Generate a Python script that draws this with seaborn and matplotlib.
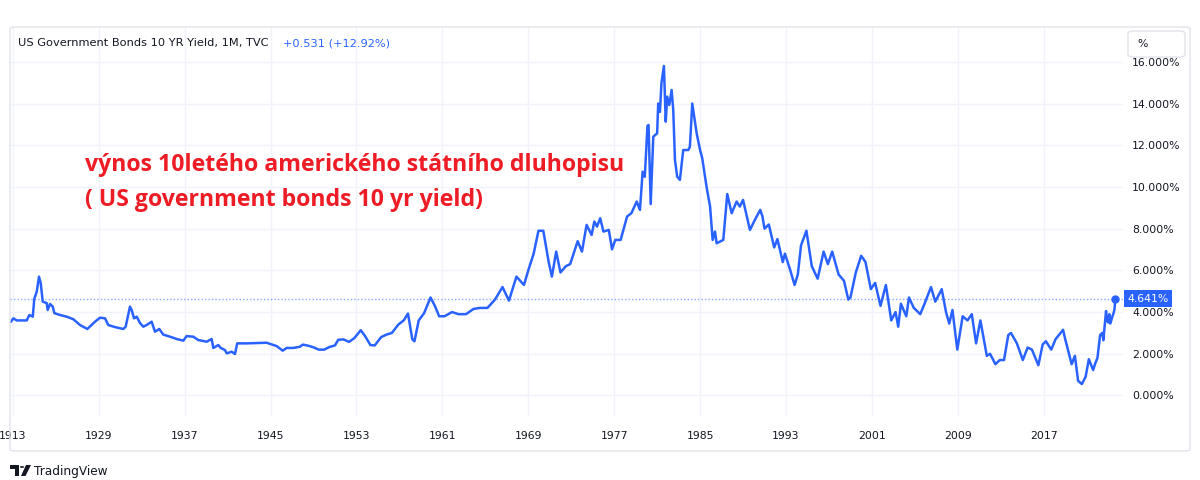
import numpy as np
import pandas as pd
import matplotlib
matplotlib.use("Agg")
import matplotlib.pyplot as plt
import matplotlib.patches as mpatches
import matplotlib.transforms as mtransforms
import seaborn as sns

W, H = 1200, 480

# Yield closes: position on the time axis (years) and yield (%)
years = [
    1920.56, 1920.83, 1921.05, 1921.37, 1922.30, 1922.54, 1922.86, 1923.00, 1923.23, 1923.44,
    1923.60, 1923.79, 1924.16, 1924.25, 1924.47, 1924.72, 1924.87, 1925.40, 1926.02, 1926.63,
    1927.26, 1927.94, 1928.66, 1929.12, 1929.59, 1929.89, 1930.52, 1931.29, 1931.51, 1931.91,
    1932.07, 1932.29, 1932.54, 1932.85, 1933.15, 1933.47, 1933.93, 1934.24, 1934.64, 1935.01,
    1935.64, 1936.26, 1936.88, 1937.19, 1937.81, 1938.27, 1939.06, 1939.52, 1939.67, 1940.14,
    1940.36, 1940.76, 1940.92, 1941.38, 1941.69, 1941.90, 1942.78, 1944.64, 1945.57, 1946.13,
    1946.50, 1947.12, 1947.74, 1948.00, 1948.50, 1949.00, 1949.50, 1950.00, 1950.50, 1951.00,
    1951.30, 1951.80, 1952.30, 1952.80, 1953.40, 1953.80, 1954.30, 1954.70, 1955.30, 1955.80,
    1956.30, 1956.90, 1957.40, 1957.80, 1958.20, 1958.40, 1958.80, 1959.30, 1959.90, 1960.30,
    1960.70, 1961.20, 1961.90, 1962.50, 1963.20, 1963.90, 1964.50, 1965.20, 1965.90, 1966.60,
    1967.20, 1967.90, 1968.60, 1969.00, 1969.50, 1969.95, 1970.40, 1970.90, 1971.20, 1971.60,
    1972.00, 1972.50, 1972.90, 1973.60, 1974.00, 1974.43, 1974.90, 1975.15, 1975.40, 1975.70,
    1976.00, 1976.50, 1976.80, 1977.10, 1977.60, 1978.20, 1978.60, 1979.10, 1979.40, 1979.65,
    1979.85, 1980.10, 1980.20, 1980.40, 1980.64, 1981.00, 1981.10, 1981.26, 1981.40, 1981.63,
    1981.80, 1981.94, 1982.13, 1982.35, 1982.50, 1982.66, 1982.87, 1983.12, 1983.43, 1983.90,
    1984.05, 1984.27, 1984.68, 1985.00, 1985.20, 1985.60, 1985.93, 1986.17, 1986.39, 1986.54,
    1987.16, 1987.53, 1987.94, 1988.40, 1988.70, 1989.00, 1989.64, 1990.10, 1990.60, 1990.80,
    1991.00, 1991.40, 1991.90, 1992.20, 1992.70, 1992.90, 1993.40, 1993.80, 1994.10, 1994.40,
    1994.90, 1995.40, 1995.95, 1996.50, 1996.90, 1997.30, 1997.90, 1998.40, 1998.80, 1999.00,
    1999.50, 2000.00, 2000.40, 2000.90, 2001.30, 2001.80, 2002.30, 2002.80, 2003.20, 2003.45,
    2003.70, 2004.20, 2004.45, 2004.90, 2005.50, 2005.90, 2006.50, 2006.90, 2007.50, 2007.90,
    2008.20, 2008.50, 2008.95, 2009.45, 2009.90, 2010.30, 2010.70, 2011.10, 2011.70, 2012.00,
    2012.50, 2012.90, 2013.30, 2013.70, 2013.95, 2014.50, 2015.05, 2015.50, 2015.90, 2016.50,
    2016.90, 2017.20, 2017.70, 2018.10, 2018.80, 2019.00, 2019.60, 2019.90, 2020.20, 2020.55,
    2020.90, 2021.20, 2021.60, 2021.80, 2022.00, 2022.25, 2022.45, 2022.55, 2022.65, 2022.75,
    2022.80, 2022.90, 2023.00, 2023.10, 2023.20, 2023.40, 2023.50, 2023.58, 2023.67,
]
yields = [
    3.50, 3.54, 3.70, 3.60, 3.60, 3.86, 3.78, 4.63, 4.98, 5.70,
    5.39, 4.50, 4.43, 4.10, 4.39, 4.26, 3.95, 3.86, 3.78, 3.66,
    3.38, 3.19, 3.54, 3.73, 3.70, 3.38, 3.28, 3.19, 3.30, 4.26,
    4.10, 3.70, 3.78, 3.47, 3.30, 3.38, 3.54, 3.06, 3.19, 2.92,
    2.82, 2.71, 2.63, 2.85, 2.82, 2.66, 2.58, 2.71, 2.28, 2.42,
    2.28, 2.18, 2.02, 2.10, 1.99, 2.50, 2.50, 2.53, 2.37, 2.15,
    2.28, 2.28, 2.34, 2.44, 2.39, 2.31, 2.20, 2.20, 2.33, 2.40,
    2.67, 2.69, 2.57, 2.75, 3.13, 2.85, 2.42, 2.40, 2.80, 2.92,
    3.00, 3.40, 3.60, 3.93, 2.70, 2.60, 3.60, 3.95, 4.70, 4.30,
    3.80, 3.80, 4.00, 3.90, 3.90, 4.15, 4.20, 4.20, 4.60, 5.20,
    4.55, 5.70, 5.30, 6.00, 6.80, 7.90, 7.90, 6.40, 5.70, 6.90,
    5.90, 6.20, 6.30, 7.40, 6.90, 8.18, 7.70, 8.34, 8.10, 8.50,
    7.86, 7.94, 7.01, 7.46, 7.46, 8.58, 8.74, 9.30, 8.90, 10.73,
    10.49, 12.93, 12.97, 9.18, 12.41, 12.57, 14.00, 13.60, 14.97, 15.80,
    13.13, 14.33, 13.93, 14.65, 13.69, 11.29, 10.49, 10.34, 11.77, 11.77,
    11.93, 14.00, 12.57, 11.77, 11.38, 10.01, 9.06, 7.46, 7.86, 7.30,
    7.46, 9.66, 8.74, 9.30, 9.06, 9.38, 7.94, 8.42, 8.90, 8.60,
    8.00, 8.20, 7.10, 7.50, 6.40, 6.80, 6.00, 5.30, 5.80, 7.20,
    7.90, 6.20, 5.60, 6.90, 6.30, 6.90, 5.80, 5.50, 4.60, 4.70,
    5.90, 6.70, 6.40, 5.10, 5.40, 4.30, 5.30, 3.60, 4.00, 3.30,
    4.40, 3.80, 4.70, 4.20, 3.90, 4.40, 5.20, 4.50, 5.10, 4.00,
    3.45, 4.10, 2.20, 3.80, 3.60, 3.90, 2.50, 3.60, 1.90, 2.00,
    1.50, 1.70, 1.70, 2.90, 3.00, 2.50, 1.70, 2.30, 2.20, 1.45,
    2.45, 2.60, 2.20, 2.70, 3.15, 2.70, 1.50, 1.90, 0.70, 0.55,
    0.90, 1.74, 1.22, 1.55, 1.80, 2.90, 3.00, 2.65, 3.20, 3.80,
    4.05, 3.60, 3.50, 3.90, 3.45, 3.80, 3.95, 4.11, 4.641,
]

xtick_pos = [1921, 1929, 1937, 1945, 1953, 1961, 1969, 1977, 1985, 1993, 2001, 2009, 2017]
xtick_labels = ["1913", "1929", "1937", "1945", "1953", "1961", "1969", "1977",
                "1985", "1993", "2001", "2009", "2017"]
ytick_vals = [0, 2, 4, 6, 8, 10, 12, 14, 16]

last_value = 4.641
title = "US Government Bonds 10 YR Yield, 1M, TVC"
change = "+0.531 (+12.92%)"
note_cz = "výnos 10letého amerického státního dluhopisu"
note_en = "( US government bonds 10 yr yield)"

BLUE = "#2962ff"
TEXT = "#131722"
GRID = "#f0f3fa"
FRAME = "#e0e3eb"
RED = "#ee1c25"


def fx(px):
    return px / W


def fy(py):
    return 1 - py / H


sns.set_style("white")
plt.rcParams["font.family"] = ["DejaVu Sans"]

df = pd.DataFrame({"year": years, "yield": yields})

fig = plt.figure(figsize=(W / 100, H / 100), dpi=100)
ax = fig.add_axes([fx(10), fy(416), fx(1123) - fx(10), fy(27) - fy(416)])

sns.lineplot(data=df, x="year", y="yield", ax=ax, color=BLUE, linewidth=1.8,
             estimator=None, sort=False, zorder=3)

ax.set_xlim(1920.74, 2024.38)
ax.set_ylim(-0.983, 17.67)

# grid
for xp in xtick_pos:
    ax.axvline(xp, color=GRID, lw=1, zorder=0)
for yv in ytick_vals:
    ax.axhline(yv, color=GRID, lw=1, zorder=0)

# current value line, dot and label
ax.axhline(last_value, color=BLUE, lw=1, ls=(0, (1, 1.5)), alpha=0.55, zorder=2)
ax.plot([years[-1]], [last_value], "o", color=BLUE, ms=5, zorder=4)
trans = mtransforms.blended_transform_factory(ax.transAxes, ax.transData)
ax.text(1.004, last_value, f"{last_value:.3f}%", transform=trans, ha="left", va="center",
        color="white", fontsize=7.8, zorder=6, clip_on=False,
        bbox=dict(boxstyle="square,pad=0.3", fc=BLUE, ec="none"))

ax.set_xticks(xtick_pos)
ax.set_xticklabels(xtick_labels)
ax.set_yticks(ytick_vals)
ax.set_yticklabels([f"{v:.3f}%" for v in ytick_vals])
ax.yaxis.tick_right()
ax.tick_params(axis="y", length=0, pad=6.5, labelsize=7.8, labelcolor=TEXT)
ax.tick_params(axis="x", length=0, pad=11, labelsize=7.8, labelcolor=TEXT)
ax.set_xlabel("")
ax.set_ylabel("")
for s in ax.spines.values():
    s.set_visible(False)

# outer frame
fig.patches.append(mpatches.FancyBboxPatch(
    (fx(10), fy(451)), fx(1190) - fx(10), fy(27) - fy(451),
    boxstyle="round,pad=0,rounding_size=0.004", transform=fig.transFigure,
    fc="none", ec=FRAME, lw=1, zorder=1))

# "%" button
fig.patches.append(mpatches.FancyBboxPatch(
    (fx(1128), fy(57)), fx(1185) - fx(1128), fy(31) - fy(57),
    boxstyle="round,pad=0,rounding_size=0.005", transform=fig.transFigure,
    fc="white", ec=FRAME, lw=1, zorder=10))
fig.text(fx(1137), fy(44), "%", fontsize=7.8, color=TEXT, va="center", zorder=11)

# header
fig.text(fx(18), fy(43), title, fontsize=8.2, color=TEXT, va="center")
fig.text(fx(283), fy(43), change, fontsize=8.2, color=BLUE, va="center")

# red note
fig.text(fx(85), fy(165), note_cz, fontsize=16.7, fontweight="bold", color=RED,
         va="center", family=["Open Sans", "DejaVu Sans"])
fig.text(fx(85), fy(200), note_en, fontsize=16.7, fontweight="bold", color=RED,
         va="center", family=["Open Sans", "DejaVu Sans"])

# TradingView logo
fig.patches.append(mpatches.Rectangle((fx(10), fy(469)), fx(19) - fx(10), fy(465) - fy(469),
                                      transform=fig.transFigure, fc=TEXT, ec="none"))
fig.patches.append(mpatches.Rectangle((fx(15), fy(476)), fx(19) - fx(15), fy(465) - fy(476),
                                      transform=fig.transFigure, fc=TEXT, ec="none"))
fig.patches.append(mpatches.Circle((fx(22), fy(467)), 2.2 / W, transform=fig.transFigure,
                                   fc=TEXT, ec="none"))
fig.patches.append(mpatches.Polygon([(fx(26), fy(465)), (fx(31), fy(465)),
                                     (fx(25.5), fy(476)), (fx(21), fy(476))],
                                    closed=True, transform=fig.transFigure, fc=TEXT, ec="none"))
fig.text(fx(34), fy(471), "TradingView", fontsize=8.7, color=TEXT, va="center")

fig.savefig("out.png", dpi=100, facecolor="white")
